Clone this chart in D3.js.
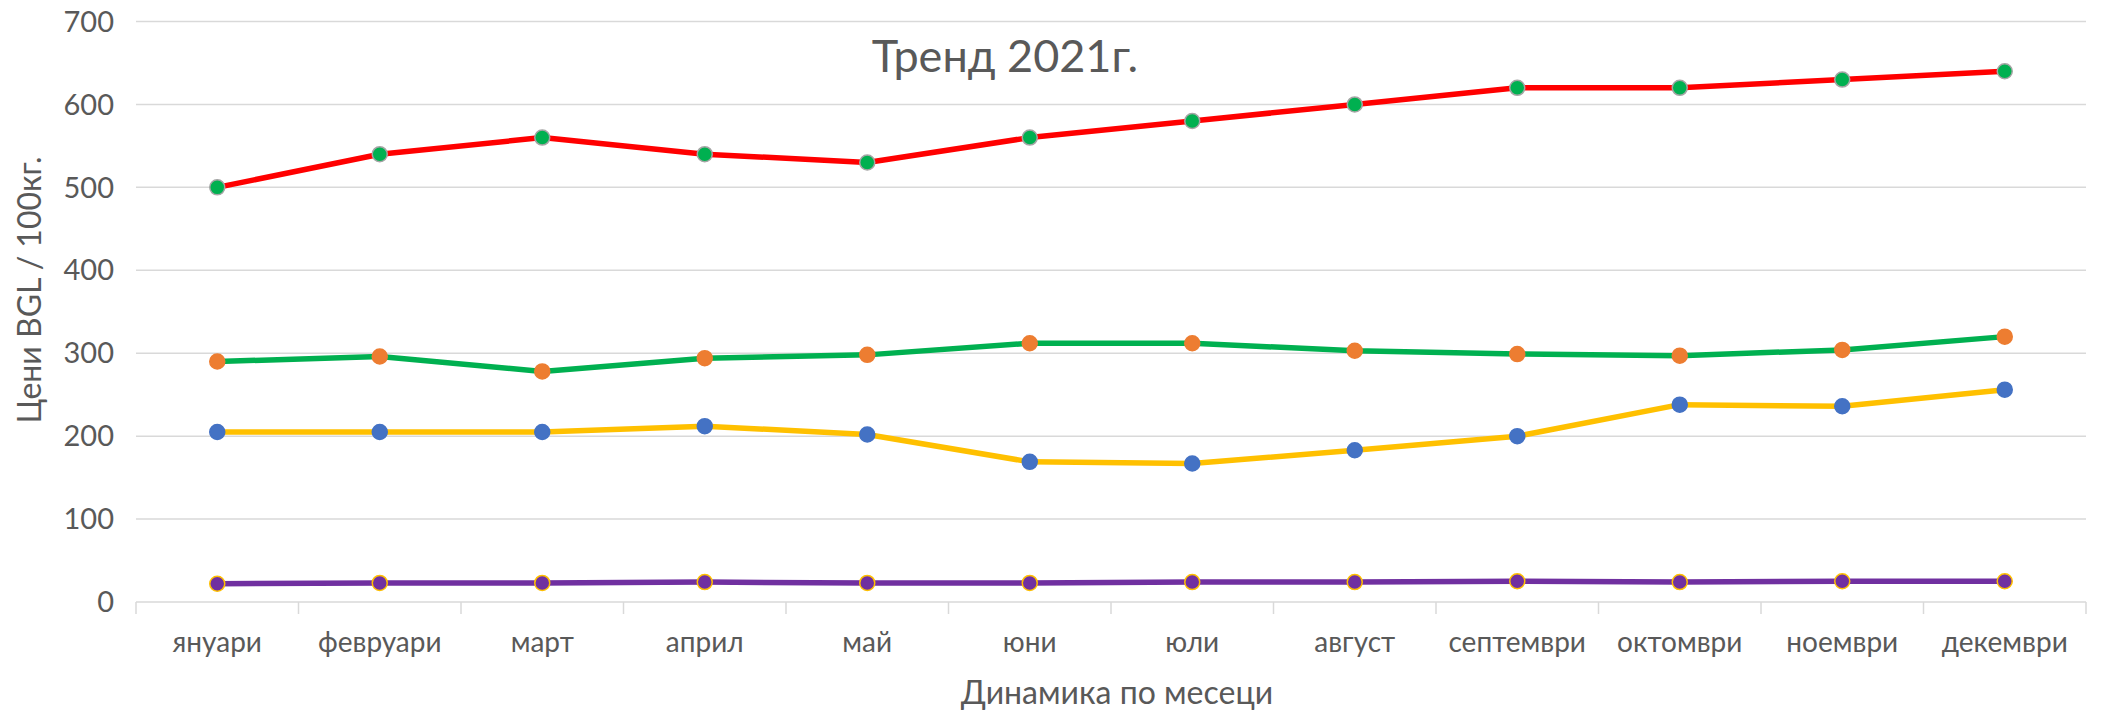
<!DOCTYPE html>
<html><head><meta charset="utf-8">
<script src="https://cdn.jsdelivr.net/npm/d3@7"></script>
<style>body{margin:0;background:#fff}svg{display:block}</style>
</head><body>
<svg id="chart" width="2108" height="713"></svg>
<script>
const months = ["януари","февруари","март","април","май","юни","юли","август","септември","октомври","ноември","декември"];
const yTicks = [0,100,200,300,400,500,600,700];
const seriesRed = [500,540,560,540,530,560,580,600,620,620,630,640];
const seriesGreen = [290,296,278,294,298,312,312,303,299,297,304,320];
const seriesYellow = [205,205,205,212,202,169,167,183,200,238,236,256];
const seriesPurple = [22,23,23,24,23,23,24,24,25,24,25,25];
const titleText = "Тренд 2021г.";
const xTitle = "Динамика по месеци";
const yTitle = "Цени BGL / 100кг.";

const styles = [
  {data: seriesRed, line:"#FF0000", fill:"#00B050", stroke:"#A5A5A5"},
  {data: seriesGreen, line:"#00B050", fill:"#ED7D31", stroke:"#ED7D31"},
  {data: seriesYellow, line:"#FFC000", fill:"#4472C4", stroke:"#4472C4"},
  {data: seriesPurple, line:"#7030A0", fill:"#7030A0", stroke:"#FFC000"}
];

const font = "Lato, 'Open Sans', sans-serif";
const svg = d3.select("#chart");
const L = 136, R = 2086, T = 21.5, B = 602;
const x = d3.scaleBand().domain(months).range([L, R]).padding(0);
const y = d3.scaleLinear().domain([0,700]).range([B, T]);

// gridlines
svg.append("g").selectAll("line").data(yTicks.filter(d=>d>0)).join("line")
  .attr("x1", L).attr("x2", R).attr("y1", d=>y(d)).attr("y2", d=>y(d))
  .attr("stroke", "#d9d9d9").attr("stroke-width", 1.5);

// y tick labels
svg.append("g").selectAll("text").data(yTicks).join("text")
  .attr("x", 114).attr("y", d=>y(d)).attr("dy", "0.35em")
  .attr("text-anchor","end").attr("font-family", font).attr("font-size", 29)
  .attr("fill", "#595959").text(d=>d);

// x axis
const xAxis = svg.append("g");
xAxis.append("line").attr("x1", L).attr("x2", R).attr("y1", B).attr("y2", B)
  .attr("stroke", "#d9d9d9").attr("stroke-width", 1.5);
const bounds = months.map(m=>x(m)).concat([R]);
xAxis.selectAll("line.tick").data(bounds).join("line").attr("class","tick")
  .attr("x1", d=>d).attr("x2", d=>d).attr("y1", B).attr("y2", B+12)
  .attr("stroke", "#d9d9d9").attr("stroke-width", 1.5);
xAxis.selectAll("text").data(months).join("text")
  .attr("x", d=>x(d)+x.bandwidth()/2).attr("y", 642).attr("dy","0.35em")
  .attr("text-anchor","middle").attr("font-family", font).attr("font-size", 28)
  .attr("fill","#595959").text(d=>d);

// lines
const line = d3.line().x((d,i)=>x(months[i])+x.bandwidth()/2).y(d=>y(d));
styles.forEach(s=>{
  svg.append("path").datum(s.data).attr("d", line).attr("fill","none")
    .attr("stroke", s.line).attr("stroke-width", 5.5).attr("stroke-linejoin","round").attr("stroke-linecap","round");
});
styles.forEach(s=>{
  svg.append("g").selectAll("circle").data(s.data).join("circle")
    .attr("cx",(d,i)=>x(months[i])+x.bandwidth()/2).attr("cy", d=>y(d)).attr("r", 7.5)
    .attr("fill", s.fill).attr("stroke", s.stroke).attr("stroke-width", 1.5);
});

// titles
svg.append("text").attr("x", 1005).attr("y", 56).attr("dy","0.35em").attr("text-anchor","middle")
  .attr("font-family", font).attr("font-size", 45).attr("fill","#595959").text(titleText);
svg.append("text").attr("x", 1117).attr("y", 693).attr("dy","0.35em").attr("text-anchor","middle")
  .attr("font-family", font).attr("font-size", 32).attr("fill","#595959").text(xTitle);
svg.append("text").attr("transform","translate(30,290) rotate(-90)").attr("dy","0.35em").attr("text-anchor","middle")
  .attr("font-family", font).attr("font-size", 32).attr("fill","#595959").text(yTitle);
</script>
</body></html>
